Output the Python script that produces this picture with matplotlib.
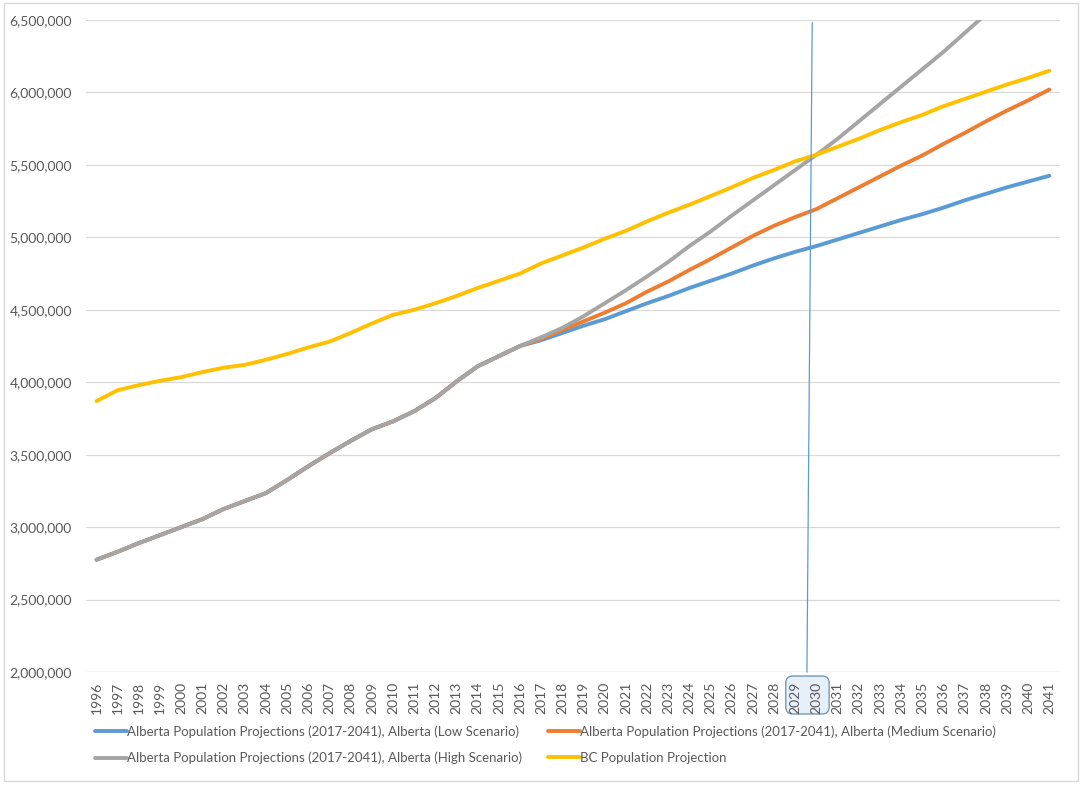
import matplotlib
matplotlib.use('Agg')
import matplotlib.pyplot as plt
from matplotlib.patches import FancyBboxPatch, Rectangle
from matplotlib.ticker import FuncFormatter

# ── Data ───────────────────────────────────────────────────────────────────────
years = list(range(1996, 2042))

# Alberta actuals 1996-2016 (shared by all three scenarios)
ab_history = [2.775, 2.83, 2.89, 2.945, 3.0, 3.055, 3.125, 3.18, 3.235, 3.325,
              3.42, 3.51, 3.595, 3.675, 3.73, 3.80, 3.89, 4.005, 4.11, 4.18, 4.25]

ab_low = [4.29, 4.34, 4.39, 4.435, 4.49, 4.545, 4.595, 4.65, 4.70, 4.75,
          4.805, 4.855, 4.90, 4.94, 4.985, 5.03, 5.075, 5.12, 5.16, 5.205,
          5.255, 5.30, 5.345, 5.385, 5.425]
ab_medium = [4.30, 4.36, 4.42, 4.48, 4.545, 4.625, 4.695, 4.775, 4.85, 4.93,
             5.01, 5.08, 5.14, 5.195, 5.27, 5.345, 5.42, 5.495, 5.565, 5.645,
             5.72, 5.80, 5.875, 5.945, 6.02]
ab_high = [4.31, 4.375, 4.455, 4.545, 4.635, 4.73, 4.83, 4.94, 5.04, 5.15,
           5.255, 5.36, 5.465, 5.57, 5.68, 5.80, 5.92, 6.04, 6.16, 6.28,
           6.41, 6.54, 6.67, 6.80, 6.93]
bc = [3.87, 3.945, 3.98, 4.01, 4.035, 4.07, 4.10, 4.12, 4.155, 4.195,
      4.24, 4.28, 4.34, 4.405, 4.465, 4.50, 4.545, 4.595, 4.65, 4.70,
      4.75, 4.82, 4.875, 4.93, 4.99, 5.045, 5.11, 5.17, 5.225, 5.285,
      5.345, 5.41, 5.465, 5.525, 5.57, 5.625, 5.68, 5.74, 5.795, 5.845,
      5.905, 5.955, 6.005, 6.055, 6.10, 6.15]

labels = [
    'Alberta Population Projections (2017-2041), Alberta (Low Scenario)',
    'Alberta Population Projections (2017-2041), Alberta (Medium Scenario)',
    'Alberta Population Projections (2017-2041), Alberta (High Scenario)',
    'BC Population Projection',
]

MARK_YEAR = 2029.75          # hand-drawn vertical marker
BOX_YEARS = (2029, 2030)     # highlighted tick labels

# ── Style ──────────────────────────────────────────────────────────────────────
BLUE   = '#5B9BD5'
ORANGE = '#ED7D31'
GRAY   = '#A5A5A5'
GOLD   = '#FFC000'
TEXT   = '#595959'
GRID   = '#D9D9D9'

plt.rcParams['font.family'] = ['Lato', 'DejaVu Sans']

W, H = 1084, 787
fig = plt.figure(figsize=(W / 100, H / 100), dpi=100)
ax = fig.add_axes([0.0793, 0.1461, 0.8985, 0.8285])

M = 1_000_000
series = [
    (ab_history + ab_low, BLUE),
    (ab_history + ab_medium, ORANGE),
    (ab_history + ab_high, GRAY),
    (bc, GOLD),
]
handles = []
for (vals, col), lab in zip(series, labels):
    (h,) = ax.plot(years, [v * M for v in vals], color=col, lw=2.8,
                   solid_capstyle='round', label=lab)
    handles.append(h)

ax.set_xlim(1995.5, 2041.5)
ax.set_ylim(2 * M, 6.5 * M)
ax.set_yticks([i * 500_000 for i in range(4, 14)])
ax.yaxis.set_major_formatter(FuncFormatter(lambda v, _: f'{v:,.0f}'))
ax.set_xticks(years)
ax.set_xticklabels([str(y) for y in years], rotation=90)
ax.tick_params(axis='both', length=0, colors=TEXT, labelsize=10)
ax.tick_params(axis='y', pad=10)
ax.tick_params(axis='x', pad=7)
ax.grid(axis='y', color=GRID, lw=0.9)
ax.set_axisbelow(True)
for s in ax.spines.values():
    s.set_visible(False)
ax.axhline(2 * M, color=GRID, lw=0.9, zorder=0)

# vertical marker line (slightly slanted, like the hand-drawn original)
ax.plot([MARK_YEAR + 0.05, MARK_YEAR - 0.2], [6.48 * M, 2.0 * M],
        color=BLUE, lw=0.9, clip_on=False, zorder=5)

# rounded highlight box around the 2029/2030 tick labels (figure coords)
x0 = ax.transData.transform((BOX_YEARS[0] - 0.45, 0))[0] / W
x1 = ax.transData.transform((BOX_YEARS[1] + 0.6, 0))[0] / W
y_top = 1 - 676 / H
y_bot = 1 - 714 / H
box = FancyBboxPatch((x0, y_bot), x1 - x0, y_top - y_bot,
                     boxstyle='round,pad=0,rounding_size=0.0065',
                     mutation_aspect=W / H,
                     transform=fig.transFigure,
                     facecolor='#DEEAF6', edgecolor='#41719C', lw=1.0,
                     alpha=0.7, zorder=0)
fig.add_artist(box)

fig.legend([handles[0], handles[2], handles[1], handles[3]],
           [labels[0], labels[2], labels[1], labels[3]],
           ncol=2, loc='upper left', bbox_to_anchor=(0.083, 0.085),
           frameon=False, fontsize=9.5, labelcolor=TEXT,
           handlelength=2.4, handletextpad=0.0, columnspacing=2.0,
           labelspacing=1.05, borderaxespad=0)

# chart-area border
fig.add_artist(Rectangle((4 / W, 1 - 781 / H), 1074 / W, 778 / H,
                         transform=fig.transFigure, fill=False,
                         edgecolor=GRID, lw=1.0))

fig.savefig('out.png', dpi=100)
